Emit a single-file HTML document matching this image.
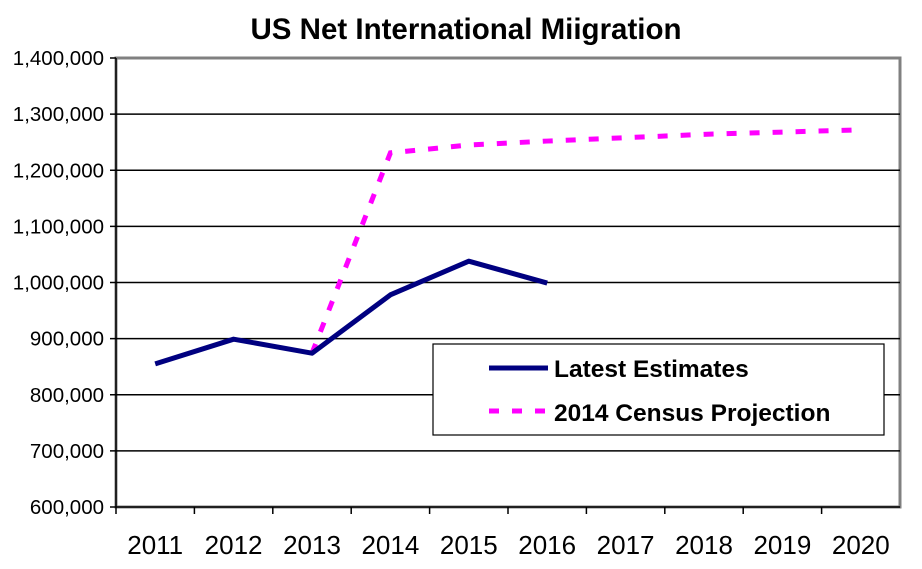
<!DOCTYPE html>
<html><head><meta charset="utf-8"><style>body{margin:0;background:#fff}svg{display:block;font-family:"Liberation Sans",Arial,sans-serif}</style></head>
<body>
<svg id="c" width="922" height="569">
<text x="466" y="39" text-anchor="middle" font-size="29.5" font-weight="bold">US Net International Miigration</text>
</svg>
<script>
const categories=['2011','2012','2013','2014','2015','2016','2017','2018','2019','2020'];
const latest=[855000,899000,874000,978000,1038000,999000];
const projection=[null,null,874000,1231000,1245000,1252000,1258000,1264000,1268000,1272000];
const yTicks=[600000,700000,800000,900000,1000000,1100000,1200000,1300000,1400000];
const L=116,R=900,T=58,B=507,ymin=600000,ymax=1400000;
const svg=document.getElementById('c');const NS='http://www.w3.org/2000/svg';
const bw=(R-L)/categories.length;
const x=i=>L+bw*(i+0.5);
const y=v=>B-(v-ymin)/(ymax-ymin)*(B-T);
function mk(t,a){const e=document.createElementNS(NS,t);for(const k in a)e.setAttribute(k,a[k]);svg.appendChild(e);return e;}
const bg=mk('rect',{x:L,y:T,width:R-L,height:B-T,fill:'#fff',stroke:'#808080','stroke-width':3});


yTicks.forEach(v=>{
 if(v>ymin&&v<ymax){const g=mk('line',{x1:L,x2:R,y1:y(v),y2:y(v),stroke:'#000','stroke-width':1.5});
 
 }
 const t=mk('text',{x:L-12,y:y(v)+7,'text-anchor':'end','font-size':20.5});
 
 
 t.textContent=v.toLocaleString('en-US');
 mk('line',{x1:L-6,x2:L,y1:y(v),y2:y(v),stroke:'#000','stroke-width':1.5});
});
const ax=mk('line',{x1:L,x2:L,y1:T,y2:B,stroke:'#000','stroke-width':1.5});


const bx=mk('line',{x1:L,x2:R,y1:B,y2:B,stroke:'#000','stroke-width':1.5});


categories.forEach((c,i)=>{
 mk('line',{x1:L+bw*i,x2:L+bw*i,y1:B,y2:B+7,stroke:'#000','stroke-width':1.5});
 const t=mk('text',{x:x(i),y:554,'text-anchor':'middle','font-size':26});
 
 
 t.textContent=c;
});
let pp=[];projection.forEach((v,i)=>{if(v!=null)pp.push(x(i)+','+y(v));});
const pl=mk('polyline',{points:pp.join(' '),fill:'none',stroke:'#ff00ff','stroke-width':5,'stroke-dasharray':'10,13'});


const lp=latest.map((v,i)=>x(i)+','+y(v)).join(' ');
const ll=mk('polyline',{points:lp,fill:'none',stroke:'#000080','stroke-width':5,'stroke-linejoin':'round'});


const lg=mk('rect',{x:433,y:344,width:451,height:91,fill:'#fff',stroke:'#000','stroke-width':1.2});


mk('line',{x1:489,x2:548,y1:368,y2:368,stroke:'#000080','stroke-width':5});
mk('line',{x1:489,x2:548,y1:411,y2:411,stroke:'#ff00ff','stroke-width':5,'stroke-dasharray':'10,13'});
const t1=mk('text',{x:554,y:377,'font-size':24.5,'font-weight':'bold'});


t1.textContent='Latest Estimates';
const t2=mk('text',{x:554,y:421,'font-size':24.5,'font-weight':'bold'});


t2.textContent='2014 Census Projection';
</script>
</body></html>
